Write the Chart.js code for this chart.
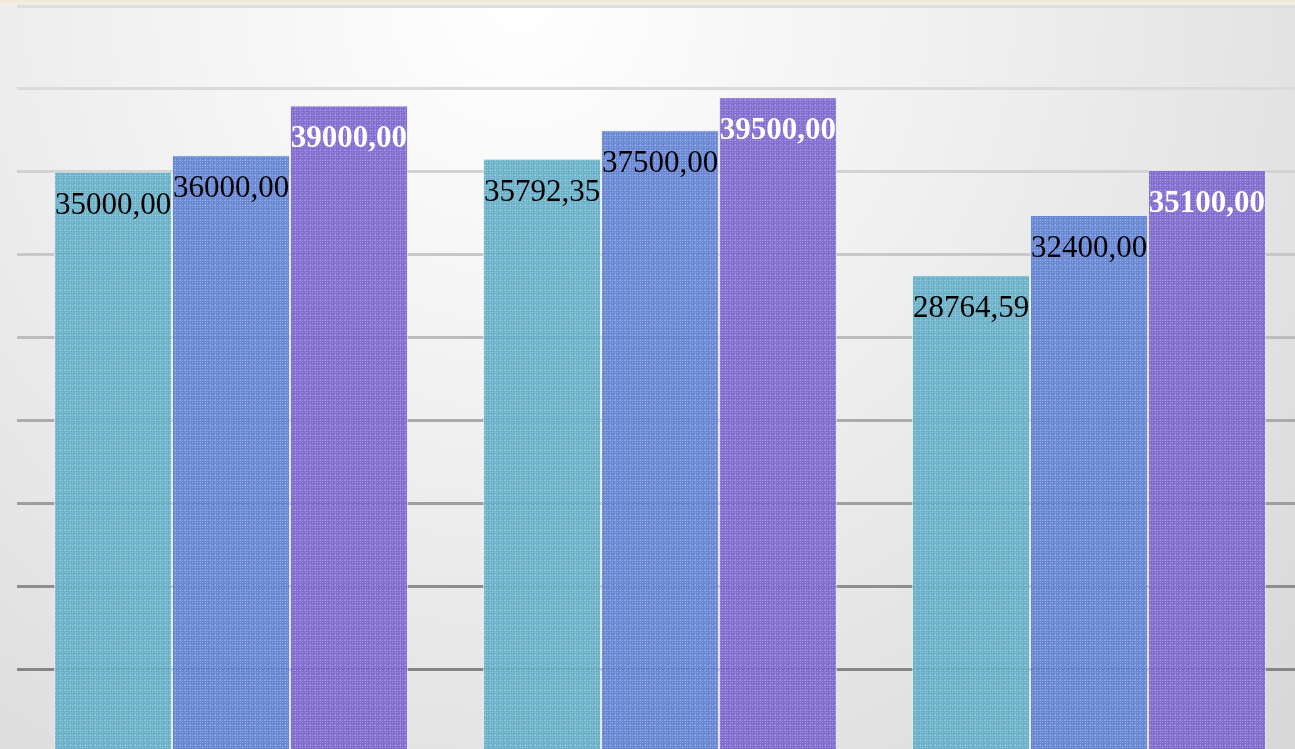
<!DOCTYPE html>
<html>
<head>
<meta charset="utf-8">
<script src="https://cdn.jsdelivr.net/npm/chart.js@4"></script>
<style>
  html, body { margin: 0; padding: 0; overflow: hidden; width: 1295px; height: 749px; }
  #bg {
    position: absolute; left: 0; top: 0; width: 1295px; height: 749px;
    background: radial-gradient(circle at 520px 0px, #ffffff 0px, #f5f5f5 300px, #e6e6e6 700px, #d8d8d8 1050px);
  }
  #band {
    position: absolute; left: 0; top: 0; width: 1295px; height: 6px;
    background: linear-gradient(to bottom, #efe9d6, #f5f2e8);
  }
  #wrap { position: absolute; left: 0; top: 0; width: 1320px; height: 752px; }
</style>
</head>
<body>
<div id="bg"></div>
<div id="band"></div>
<div id="wrap"><canvas id="chart"></canvas></div>
<script>
const categories = ["1", "2", "3"];
const seriesNames = ["Série 1", "Série 2", "Série 3"];
const series1 = [35000.00, 35792.35, 28764.59];
const series2 = [36000.00, 37500.00, 32400.00];
const series3 = [39000.00, 39500.00, 35100.00];
const yTicks = [0, 5000, 10000, 15000, 20000, 25000, 30000, 35000, 40000, 45000];

const gridColors = {
  0: 'rgba(0,0,0,0)', 5000: '#868686', 10000: '#8e8e8e', 15000: '#9e9e9e',
  20000: '#ababab', 25000: '#bcbcbc', 30000: '#c8c8c8', 35000: '#d2d2d2',
  40000: '#dadada', 45000: '#dedede'
};

function makePattern(base, light) {
  const c = document.createElement('canvas');
  c.width = 5; c.height = 5;
  const g = c.getContext('2d');
  g.fillStyle = base;
  g.fillRect(0, 0, 5, 5);
  g.fillStyle = light;
  for (let i = 0; i < 5; i += 2) {
    g.fillRect(i, 0, 1, 1);
    g.fillRect(0, i, 1, 1);
  }
  g.fillRect(2, 2, 1, 1);
  return document.getElementById('chart').getContext('2d').createPattern(c, 'repeat');
}

function fmt(v) {
  return v.toFixed(2).replace('.', ',');
}

const labelPlugin = {
  id: 'barLabels',
  afterDatasetsDraw(chart) {
    const ctx = chart.ctx;
    ctx.save();
    ctx.textAlign = 'center';
    ctx.textBaseline = 'alphabetic';
    chart.data.datasets.forEach((ds, i) => {
      const meta = chart.getDatasetMeta(i);
      const bold = i === 2;
      ctx.font = (bold ? 'bold ' : '') + '31px "Liberation Serif", "DejaVu Serif", serif';
      ctx.fillStyle = bold ? '#ffffff' : '#000000';
      meta.data.forEach((bar, j) => {
        ctx.fillText(fmt(ds.data[j]), bar.x, bar.y + 42);
      });
    });
    ctx.restore();
  }
};

function createChart() {
  new Chart(document.getElementById("chart"), {
    type: 'bar',
    data: {
      labels: categories,
      datasets: [
        {
          label: seriesNames[0],
          backgroundColor: makePattern('rgba(98,172,196,0.93)', 'rgba(150,204,222,0.93)'),
          borderColor: 'rgba(225,238,245,0.7)',
          borderWidth: 1,
          data: series1
        },
        {
          label: seriesNames[1],
          backgroundColor: makePattern('rgba(96,128,208,0.93)', 'rgba(146,172,232,0.93)'),
          borderColor: 'rgba(225,232,250,0.7)',
          borderWidth: 1,
          data: series2
        },
        {
          label: seriesNames[2],
          backgroundColor: makePattern('rgba(120,100,202,0.93)', 'rgba(166,150,228,0.93)'),
          borderColor: 'rgba(232,226,250,0.7)',
          borderWidth: 1,
          data: series3
        }
      ]
    },
    options: {
      responsive: true,
      maintainAspectRatio: false,
      animation: false,
      layout: { padding: { left: 16.5, right: 16.5, top: 6, bottom: 0 } },
      datasets: { bar: { categoryPercentage: 0.825, barPercentage: 1 } },
      plugins: {
        legend: { display: false },
        title: { display: false },
        tooltip: { enabled: false }
      },
      scales: {
        x: { display: false },
        y: {
          min: 0,
          max: 45000,
          afterBuildTicks(axis) {
            axis.ticks = yTicks.map(v => ({ value: v }));
          },
          afterFit(axis) { axis.width = 0; },
          ticks: { display: false },
          border: { display: false },
          grid: {
            lineWidth: 3,
            drawTicks: false,
            color: (c) => gridColors[c.tick.value] || '#cccccc'
          }
        }
      }
    },
    plugins: [labelPlugin]
  });
}

document.addEventListener('DOMContentLoaded', createChart);
</script>
</body>
</html>
